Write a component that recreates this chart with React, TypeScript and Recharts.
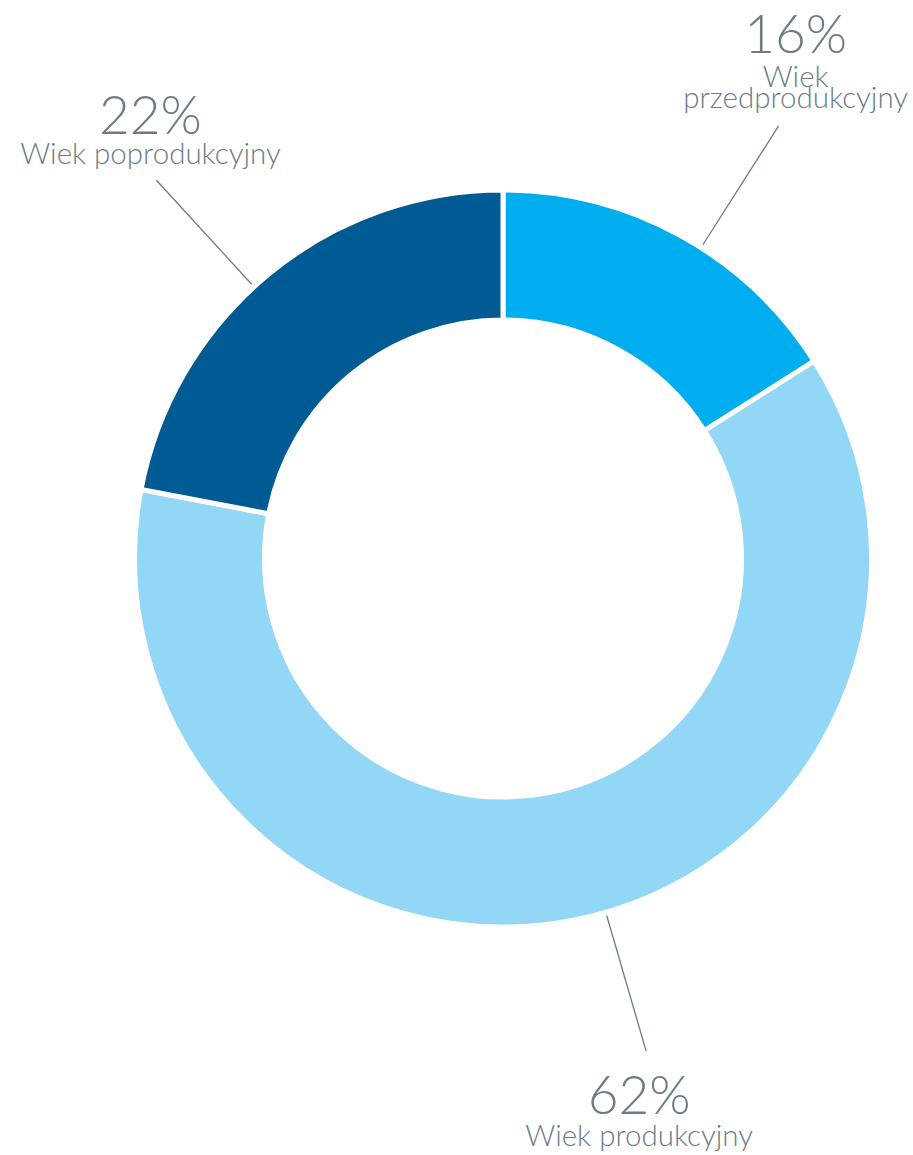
import { PieChart, Pie, Cell } from "recharts"

const groups = ["Wiek przedprodukcyjny", "Wiek produkcyjny", "Wiek poprodukcyjny"]
const shares = [16, 62, 22]
const colors = ["#00AEEF", "#92D7F5", "#005A93"]

const data = groups.map((name, i) => ({ name, value: shares[i] }))

const RAD = Math.PI / 180
const TEXT = "#6B7C87"
const FONT = "Lato, 'Open Sans', sans-serif"

// label layout: angle nudge of the leader line, and text offsets from its outer end
const labelLayout = [
  { nudge: -3.7, dx: 17, lines: [["Wiek", -39], ["przedprodukcyjny", -18]], pct: -73 },
  { nudge: 5.4, dx: -7, lines: [["Wiek produkcyjny", 95]], pct: 63 },
  { nudge: 2.9, dx: -6, lines: [["Wiek poprodukcyjny", -16]], pct: -46 },
]

function renderLabel(props: any) {
  const { cx, cy, midAngle, index, value, payload } = props
  const l = labelLayout[index]
  const a = -(midAngle + l.nudge) * RAD
  const x1 = cx + 372 * Math.cos(a)
  const y1 = cy + 372 * Math.sin(a)
  const x2 = cx + 513 * Math.cos(a)
  const y2 = cy + 513 * Math.sin(a)
  const tx = x2 + l.dx
  const subs = index === 0 ? l.lines : [[payload.name, l.lines[0][1]]]
  return (
    <g>
      <line x1={x1} y1={y1} x2={x2} y2={y2} stroke="#6B7C87" strokeWidth={1.3} />
      <text x={tx} y={y2 + l.pct} textAnchor="middle" fill={TEXT} fontFamily={FONT} fontWeight={300} fontSize={53}>
        {value}%
      </text>
      {subs.map(([t, dy]: any, i: number) => (
        <text key={i} x={tx} y={y2 + dy} textAnchor="middle" fill={TEXT} fontFamily={FONT} fontWeight={300} fontSize={29.5}>
          {t}
        </text>
      ))}
    </g>
  )
}

export default function App() {
  return (
    <div style={{ width: 913, height: 1155, background: "#fff" }}>
      <style>{`body{margin:0}`}</style>
      <PieChart width={913} height={1155} margin={{ top: 0, right: 0, bottom: 0, left: 0 }}>
        <Pie
          data={data}
          dataKey="value"
          cx={503}
          cy={558.5}
          innerRadius={238.5}
          outerRadius={368.5}
          startAngle={90}
          endAngle={-270}
          stroke="#fff"
          strokeWidth={5}
          label={renderLabel}
          labelLine={false}
          isAnimationActive={false}
        >
          {data.map((d, i) => (
            <Cell key={d.name} fill={colors[i]} />
          ))}
        </Pie>
      </PieChart>
    </div>
  )
}
